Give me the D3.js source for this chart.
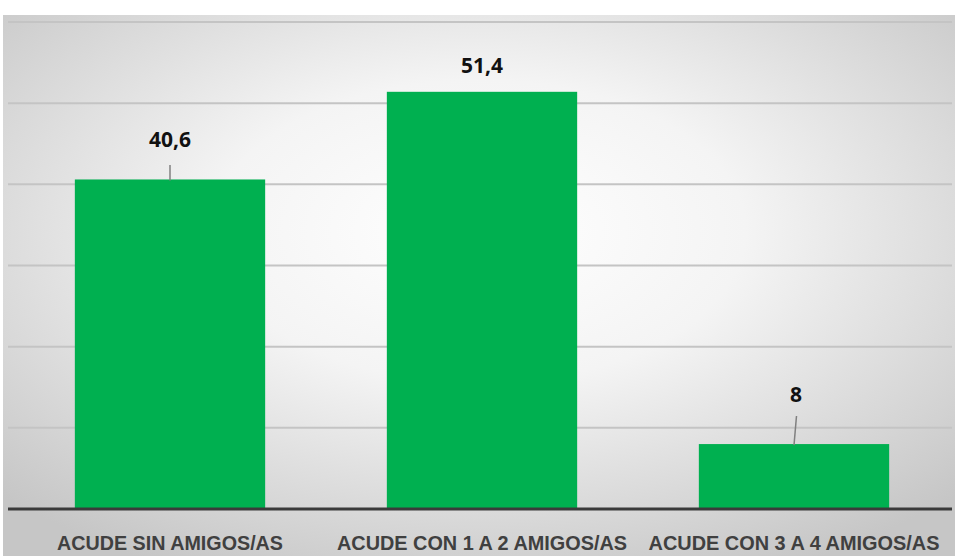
<!DOCTYPE html>
<html><head><meta charset="utf-8">
<script src="https://cdn.jsdelivr.net/npm/d3@7"></script>
<style>html,body{margin:0;padding:0;background:#fff;}svg{display:block;}</style>
</head><body>
<script>
const categories = ["ACUDE SIN AMIGOS/AS", "ACUDE CON 1 A 2 AMIGOS/AS", "ACUDE CON 3 A 4 AMIGOS/AS"];
const values = [40.6, 51.4, 8];
const valueLabels = ["40,6", "51,4", "8"];
const yTicks = [0, 10, 20, 30, 40, 50, 60];

const W = 958, H = 556;
const svg = d3.select("body").append("svg").attr("width", W).attr("height", H);
const defs = svg.append("defs");
const rg = defs.append("radialGradient").attr("id", "bg")
  .attr("cx", "50%").attr("cy", "40%").attr("r", "70%");
rg.append("stop").attr("offset", "0%").attr("stop-color", "#ffffff");
rg.append("stop").attr("offset", "40%").attr("stop-color", "#f4f4f4");
rg.append("stop").attr("offset", "100%").attr("stop-color", "#c6c6c6");
svg.append("rect").attr("x", 3).attr("y", 15).attr("width", 952).attr("height", 541).attr("fill", "url(#bg)");

const x = d3.scaleBand().domain(categories).range([14, 950]).paddingInner(0.39).paddingOuter(0.195);
const y = d3.scaleLinear().domain([0, 60]).range([509, 22]);

// gridlines
svg.append("g").selectAll("line").data(yTicks.filter(t => t > 0)).join("line")
  .attr("x1", 8).attr("x2", 952)
  .attr("y1", d => y(d)).attr("y2", d => y(d))
  .attr("stroke", "#c4c4c4").attr("stroke-width", 2);

// bars
svg.append("g").selectAll("rect").data(values).join("rect")
  .attr("x", (d, i) => x(categories[i]))
  .attr("width", x.bandwidth())
  .attr("y", d => y(d))
  .attr("height", d => y(0) - y(d))
  .attr("fill", "#00B050");

// baseline
svg.append("line").attr("x1", 8).attr("x2", 952).attr("y1", y(0)).attr("y2", y(0))
  .attr("stroke", "#3a3a3a").attr("stroke-width", 3);

// leader lines (label offsets, only where label is lifted away from the bar)
const leaders = [
  { i: 0, top: 165, dx: 0 },
  { i: 2, top: 416, dx: 2.5 }
];
svg.append("g").selectAll("line").data(leaders).join("line")
  .attr("x1", d => x(categories[d.i]) + x.bandwidth() / 2 + d.dx)
  .attr("x2", d => x(categories[d.i]) + x.bandwidth() / 2)
  .attr("y1", d => d.top)
  .attr("y2", d => y(values[d.i]) + 1)
  .attr("stroke", "#808080").attr("stroke-width", 1.5);

// value labels
const labelY = [147, 73, 402];
const labelDx = [0, 0, 2];
svg.append("g").selectAll("text").data(valueLabels).join("text")
  .attr("x", (d, i) => x(categories[i]) + x.bandwidth() / 2 + labelDx[i])
  .attr("y", (d, i) => labelY[i])
  .attr("text-anchor", "middle")
  .attr("font-family", "Open Sans, Liberation Sans, sans-serif")
  .attr("font-weight", "bold").attr("font-size", 21).attr("fill", "#111")
  .text(d => d);

// category labels
const catWidths = [226, 290, 291];
svg.append("g").selectAll("text").data(categories).join("text")
  .attr("x", d => x(d) + x.bandwidth() / 2)
  .attr("y", 550)
  .attr("text-anchor", "middle")
  .attr("font-family", "Liberation Sans, Arial, sans-serif")
  .attr("font-weight", "bold")
  .attr("font-size", 21).attr("fill", "#404040")
  .attr("textLength", (d, i) => catWidths[i])
  .attr("lengthAdjust", "spacingAndGlyphs")
  .text(d => d);
</script>
</body></html>
